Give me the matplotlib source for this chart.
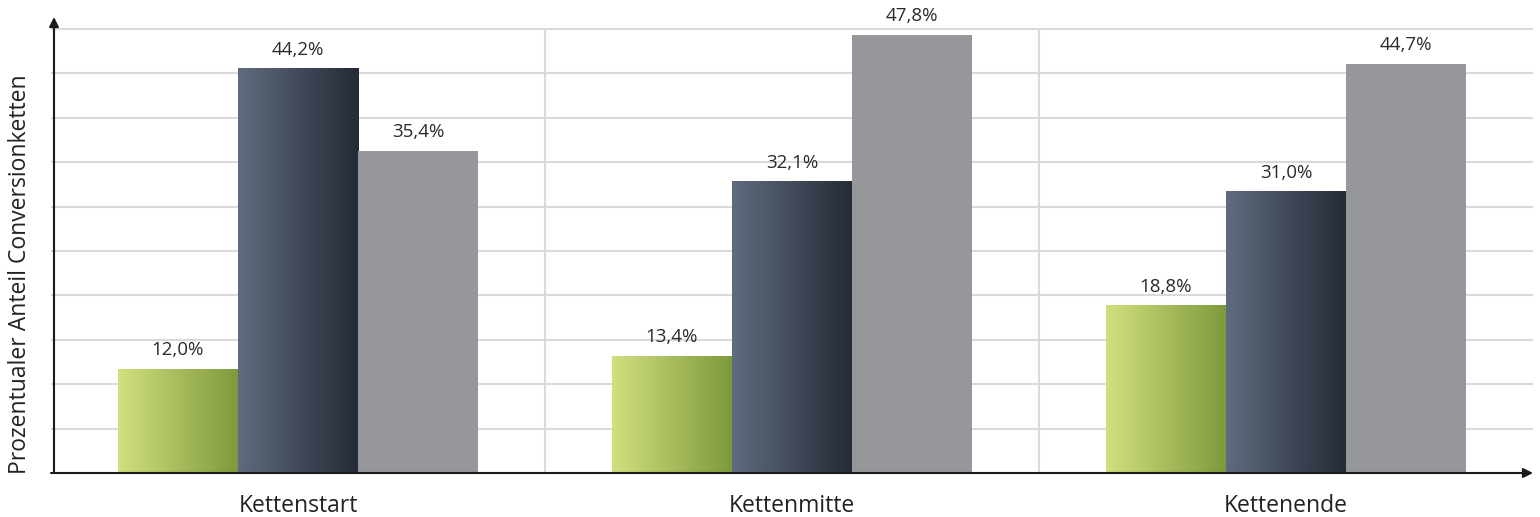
import matplotlib.pyplot as plt
import numpy as np
from matplotlib.colors import LinearSegmentedColormap

categories = ['Kettenstart', 'Kettenmitte', 'Kettenende']
serie_gruen = [12.0, 13.4, 18.8]
serie_dunkel = [44.2, 32.1, 31.0]
serie_grau = [35.4, 47.8, 44.7]
labels_gruen = ['12,0%', '13,4%', '18,8%']
labels_dunkel = ['44,2%', '32,1%', '31,0%']
labels_grau = ['35,4%', '47,8%', '44,7%']

plt.rcParams['font.family'] = ['Open Sans', 'DejaVu Sans']

fig = plt.figure(figsize=(15.4, 5.17), dpi=100)
# axes: x from 51 to 1533 px, y from 473 (bottom) to 17 (top)
ax = fig.add_axes([51 / 1540, (517 - 473) / 517, (1533 - 51) / 1540, (473 - 17) / 517])

ymin = 0.86
step = 4.76
ymax = ymin + step * 10 + 12 / 9.33
ax.set_xlim(-0.5, 2.5)
ax.set_ylim(ymin, ymax)

# gridlines
for k in range(1, 11):
    ax.axhline(ymin + k * step, color='#d9d9d9', lw=1.5, zorder=0)
for xv in [0.5, 1.5]:
    ax.plot([xv, xv], [ymin, ymin + 10 * step], color='#d9d9d9', lw=1.5, zorder=0)

x = np.arange(len(categories))
w = 0.243
cmap_g = LinearSegmentedColormap.from_list('g', ['#d0e07f', '#7e993b'])
cmap_d = LinearSegmentedColormap.from_list('d', ['#5f6c7e', '#252a37'])
grad = np.linspace(0, 1, 256).reshape(1, -1)

for vals, labs, off, cm in [(serie_gruen, labels_gruen, -w, cmap_g),
                            (serie_dunkel, labels_dunkel, 0, cmap_d),
                            (serie_grau, labels_grau, w, None)]:
    bars = ax.bar(x + off, vals, width=w, bottom=0, color='#96979b', zorder=2)
    for b, lab in zip(bars, labs):
        if cm is not None:
            b.set_alpha(0)
            x0 = b.get_x()
            ax.imshow(grad, cmap=cm, aspect='auto', zorder=2,
                      extent=(x0, x0 + b.get_width(), ymin, b.get_height()))
        ax.annotate(lab, (b.get_x() + b.get_width() / 2, b.get_height()),
                    xytext=(0, 7), textcoords='offset points', ha='center',
                    va='bottom', fontsize=13.5, color='#2a2a2a')

ax.set_xlim(-0.5, 2.5)
ax.set_ylim(ymin, ymax)

for s in ['top', 'right', 'left', 'bottom']:
    ax.spines[s].set_visible(False)

# axis lines with arrows
ax.annotate('', xy=(3 / 1482, 1.0), xytext=(3 / 1482, 0), xycoords='axes fraction',
            arrowprops=dict(arrowstyle='-|>', color='#1a1a1a', lw=1.5,
                            mutation_scale=14, shrinkA=0, shrinkB=0))
ax.annotate('', xy=(1.0, 0), xytext=(0, 0), xycoords='axes fraction',
            arrowprops=dict(arrowstyle='-|>', color='#1a1a1a', lw=1.5,
                            mutation_scale=14, shrinkA=0, shrinkB=0))

ax.set_xticks(x)
ax.set_xticklabels(categories, fontsize=16.5, color='#222222')
ax.tick_params(axis='x', length=0, pad=15)
ax.set_yticks([])
ax.set_ylabel('Prozentualer Anteil Conversionketten', fontsize=16.5,
              color='#222222')
ax.yaxis.set_label_coords(-0.013, 0.436)

plt.savefig('out.png', dpi=100)
